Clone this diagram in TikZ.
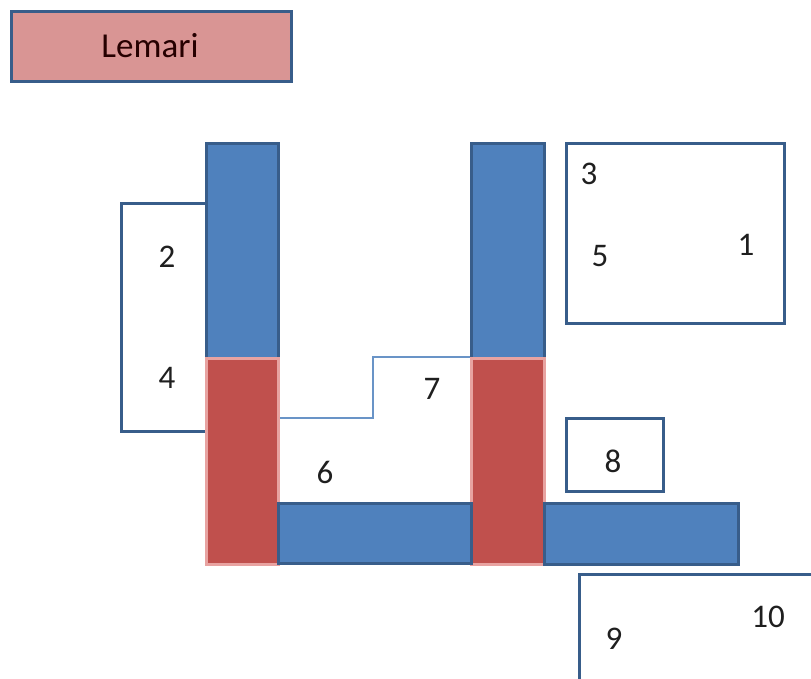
\documentclass[tikz,border=0pt]{standalone}
\usepackage{fontspec}
\setmainfont{Carlito}
\definecolor{edgeblue}{HTML}{385D8A}
\definecolor{wallblue}{HTML}{4F81BD}
\definecolor{wallred}{HTML}{C0504D}
\definecolor{redhalo}{HTML}{E8A3A1}
\definecolor{cabinet}{HTML}{D99594}
\begin{document}
\begin{tikzpicture}[x=1pt,y=-1pt,
  box/.style={rectangle,draw=edgeblue,line width=3.2pt,inner sep=0pt,anchor=north west},
  roomwall/.style={box,fill=wallblue},
  pillar/.style={rectangle,draw=redhalo,line width=3pt,fill=wallred,inner sep=0pt,anchor=north west},
  area/.style={box,fill=white},
  num/.style={font=\fontsize{33}{33}\selectfont,text=black!88,inner sep=0pt}
]
\clip (0,0) rectangle (811,679);
\fill[white] (0,0) rectangle (811,679);

% cabinet label box
\node[box,fill=cabinet,minimum width=280pt,minimum height=70pt] (lemari) at (10,10) {};
\node[num,font=\fontsize{35}{35}\selectfont,text=black!85!red] (lemaritxt) at (150,46) {Lemari};

% zone boxes
\node[area,minimum width=85pt,minimum height=228pt] (zoneA) at (120,202) {};
\node[area,minimum width=218pt,minimum height=180pt] (zoneB) at (565,142) {};
\node[area,minimum width=97pt,minimum height=73pt] (zoneC) at (565,417) {};
\node[area,minimum width=260pt,minimum height=140pt] (zoneD) at (578,573) {};

% walls
\node[roomwall,minimum width=72pt,minimum height=215pt] (wallL) at (205,142) {};
\node[roomwall,minimum width=73pt,minimum height=215pt] (wallR) at (470,142) {};
\node[pillar,minimum width=72pt,minimum height=206pt] (pillarL) at (205,357) {};
\node[pillar,minimum width=73pt,minimum height=206pt] (pillarR) at (470,357) {};
\node[roomwall,minimum width=193pt,minimum height=60pt] (barA) at (277,502) {};
\node[roomwall,minimum width=194pt,minimum height=61pt] (barB) at (543,502) {};

% stepped divider between the pillars
\coordinate (stepA) at (pillarL.east |- 0,418);
\coordinate (stepB) at (373,418);
\coordinate (stepC) at (373,357);
\draw[wallblue!85,line width=1.5pt] (stepA) -- (stepB) -- (stepC) -- (pillarR.north west);

% numbers
\node[num] (n2) at (167,257) {2};
\node[num] (n4) at (167,378) {4};
\node[num] (n3) at (589,174) {3};
\node[num] (n5) at (600,256) {5};
\node[num] (n1) at (746,245) {1};
\node[num] (n7) at (432,389) {7};
\node[num] (n6) at (325,472) {6};
\node[num] (n8) at (613,461) {8};
\node[num] (n9) at (614,639) {9};
\node[num] (n10) at (768,617) {10};
\end{tikzpicture}
\end{document}
